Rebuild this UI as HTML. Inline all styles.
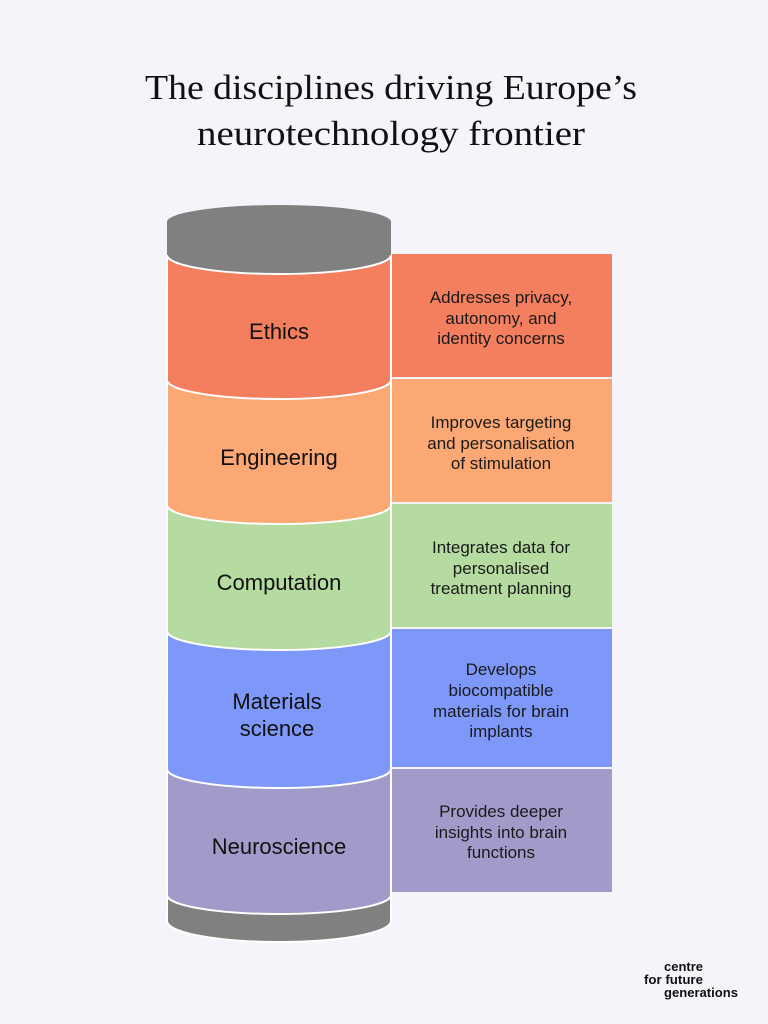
<!DOCTYPE html>
<html><head><meta charset="utf-8"><style>
html,body{margin:0;padding:0;background:#F5F4FA;}
svg{display:block;}
.t{font-family:"Liberation Serif",serif;font-size:35px;fill:#111;}
.l{font-family:"Liberation Sans",sans-serif;font-size:22px;fill:#111;}
.d{font-family:"Liberation Sans",sans-serif;font-size:17px;fill:#1a1a1a;}
.g{font-family:"Liberation Sans",sans-serif;font-size:12.5px;font-weight:bold;fill:#111;}
</style></head><body>
<svg width="768" height="1024" viewBox="0 0 768 1024" xmlns="http://www.w3.org/2000/svg">
<rect width="768" height="1024" fill="#F5F4FA"/>
<text class="t" x="391" y="99" text-anchor="middle" textLength="492" lengthAdjust="spacingAndGlyphs">The disciplines driving Europe’s</text>
<text class="t" x="391" y="145" text-anchor="middle" textLength="388" lengthAdjust="spacingAndGlyphs">neurotechnology frontier</text>

<g stroke="#fff" stroke-width="2">
<path d="M167,897 L391,897 L391,921 A112,21 0 0 1 167,921 Z" fill="#808080"/>
<path d="M167,770 L391,770 L391,895 A112,19 0 0 1 167,895 Z" fill="#A09BC8"/>
<path d="M167,630 L391,630 L391,769 A112,19 0 0 1 167,769 Z" fill="#7E98F9"/>
<path d="M167,505 L391,505 L391,631 A112,19 0 0 1 167,631 Z" fill="#B5DBA0"/>
<path d="M167,380 L391,380 L391,505 A112,19 0 0 1 167,505 Z" fill="#FBA874"/>
<path d="M167,255 L391,255 L391,380 A112,19 0 0 1 167,380 Z" fill="#F47F5E"/>
</g>
<path d="M167,222 A112,17 0 0 1 391,222 L391,255 A112,19 0 0 1 167,255 Z" fill="#808080"/>
<path d="M391,255 A112,19 0 0 1 167,255" fill="none" stroke="#fff" stroke-width="2"/>

<g>
<rect x="392" y="254" width="220" height="123" fill="#F47F5E"/>
<rect x="392" y="379" width="220" height="123" fill="#FBA874"/>
<rect x="392" y="504" width="220" height="123" fill="#B5DBA0"/>
<rect x="392" y="629" width="220" height="138" fill="#7E98F9"/>
<rect x="392" y="769" width="220" height="123" fill="#A09BC8"/>
</g>

<g text-anchor="middle">
<text class="l" x="279" y="339">Ethics</text>
<text class="l" x="279" y="465">Engineering</text>
<text class="l" x="279" y="590">Computation</text>
<text class="l" x="277" y="709">Materials</text>
<text class="l" x="277" y="736">science</text>
<text class="l" x="279" y="854">Neuroscience</text>

<text class="d" x="501" y="303">Addresses privacy,</text>
<text class="d" x="501" y="324">autonomy, and</text>
<text class="d" x="501" y="344">identity concerns</text>

<text class="d" x="501" y="428">Improves targeting</text>
<text class="d" x="501" y="449">and personalisation</text>
<text class="d" x="501" y="469">of stimulation</text>

<text class="d" x="501" y="553">Integrates data for</text>
<text class="d" x="501" y="574">personalised</text>
<text class="d" x="501" y="594">treatment planning</text>

<text class="d" x="501" y="675">Develops</text>
<text class="d" x="501" y="696">biocompatible</text>
<text class="d" x="501" y="717">materials for brain</text>
<text class="d" x="501" y="737">implants</text>

<text class="d" x="501" y="817">Provides deeper</text>
<text class="d" x="501" y="838">insights into brain</text>
<text class="d" x="501" y="858">functions</text>
</g>

<text class="g" x="664" y="971" textLength="39" lengthAdjust="spacingAndGlyphs">centre</text>
<text class="g" x="644" y="984" textLength="59" lengthAdjust="spacingAndGlyphs">for future</text>
<text class="g" x="664" y="997" textLength="74" lengthAdjust="spacingAndGlyphs">generations</text>
</svg>
</body></html>
